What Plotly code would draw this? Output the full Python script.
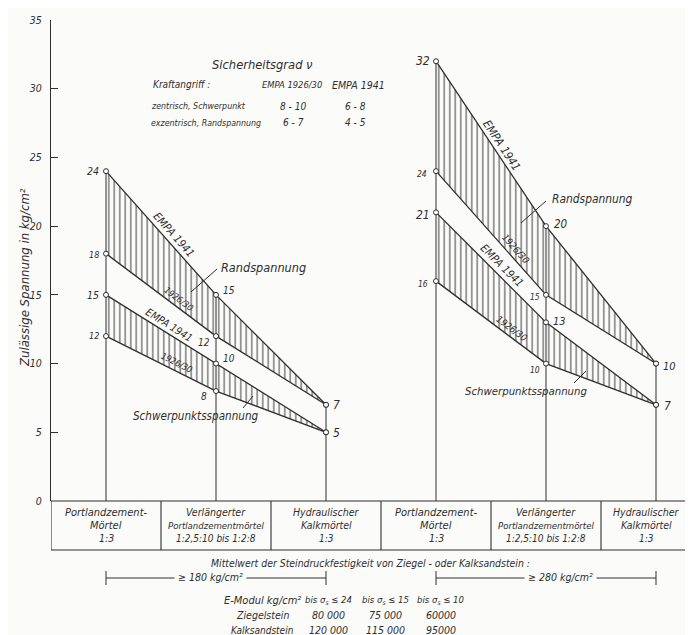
import math
import plotly.graph_objects as go

# ---------------- data ----------------
mortar_cells = [
    ["Portlandzement-", "Mörtel", "1:3"],
    ["Verlängerter", "Portlandzementmörtel", "1:2,5:10 bis 1:2:8"],
    ["Hydraulischer", "Kalkmörtel", "1:3"],
]
strength_labels = ["≥ 180 kg/cm²", "≥ 280 kg/cm²"]

rand_1941_180 = [24, 15, 7]
rand_1926_180 = [18, 12, 7]
schwer_1941_180 = [15, 10, 5]
schwer_1926_180 = [12, 8, 5]
rand_1941_280 = [32, 20, 10]
rand_1926_280 = [24, 15, 10]
schwer_1941_280 = [21, 13, 7]
schwer_1926_280 = [16, 10, 7]

y_tick_values = [0, 5, 10, 15, 20, 25, 30, 35]

safety_title = "Sicherheitsgrad ν"
safety_header = ["Kraftangriff :", "EMPA 1926/30", "EMPA 1941"]
safety_rows = [
    ["zentrisch, Schwerpunkt", "8 - 10", "6 - 8"],
    ["exzentrisch, Randspannung", "6 - 7", "4 - 5"],
]
emodul_rows = [
    ["E-Modul kg/cm²", "bis σ<sub>s</sub> ≤ 24", "bis σ<sub>s</sub> ≤ 15", "bis σ<sub>s</sub> ≤ 10"],
    ["Ziegelstein", "80 000", "75 000", "60000"],
    ["Kalksandstein", "120 000", "115 000", "95000"],
]

# ---------------- layout constants ----------------
W, H = 693, 635
ML, MR, MT, MB = 43, 0, 12, 142
PW, PH = W - ML - MR, H - MT - MB
COL = 110.0
XMAX = PW / COL
YMAX = 35
SY = PH / YMAX
INK = "#2e2e2e"
BG = "#fbfbfa"
FONT = "DejaVu Sans Condensed, Liberation Sans Narrow, Liberation Sans, sans-serif"


def fnt(size, color=INK):
    return dict(family=FONT, size=size, color=color, style="italic")


def pxx(p):
    return (p - ML) / PW


def pxy(p):
    return (H - MB - p) / PH


groups = [
    dict(rand=(rand_1926_180, rand_1941_180), schwer=(schwer_1926_180, schwer_1941_180)),
    dict(rand=(rand_1926_280, rand_1941_280), schwer=(schwer_1926_280, schwer_1941_280)),
]


def xcols(g):
    return [3 * g + i + 0.5 for i in range(3)]


fig = go.Figure()

# vertical column lines (up to the highest value of each column)
vx, vy = [], []
for g, grp in enumerate(groups):
    tops = grp["rand"][1]
    for xc, top in zip(xcols(g), tops):
        vx += [xc, xc, None]
        vy += [0, top, None]
fig.add_trace(go.Scatter(x=vx, y=vy, mode="lines", line=dict(color=INK, width=1.0),
                         hoverinfo="skip"))

# hatched bands
mk = dict(symbol="circle", size=5, color="white", line=dict(color=INK, width=1))
for g, grp in enumerate(groups):
    for key in ("rand", "schwer"):
        lower, upper = grp[key]
        fig.add_trace(go.Scatter(x=xcols(g), y=lower, mode="lines+markers",
                                 line=dict(color=INK, width=1.3), marker=mk,
                                 hoverinfo="skip"))
        fig.add_trace(go.Scatter(x=xcols(g), y=upper, mode="lines+markers",
                                 line=dict(color=INK, width=1.3), marker=mk,
                                 fill="tonexty", fillcolor="rgba(0,0,0,0)",
                                 fillpattern=dict(shape="|", size=5.5, solidity=0.18,
                                                  fgcolor="#3a3a3a", bgcolor="rgba(0,0,0,0)",
                                                  fillmode="replace"),
                                 hoverinfo="skip"))

annotations = []
shapes = []

# point value labels: (xshift, yshift, size, anchor) per column
label_specs = {
    (0, "rand", 1): [(-5, 0, 10.5, "right"), (5, 4, 10, "left"), (5, 0, 12, "left")],
    (0, "rand", 0): [(-5, -1, 9, "right"), (-4, -6, 10, "right"), None],
    (0, "schwer", 1): [(-5, 0, 10.5, "right"), (5, 5, 10, "left"), (5, -1, 12, "left")],
    (0, "schwer", 0): [(-5, 0, 9, "right"), (-7, -5, 10, "right"), None],
    (1, "rand", 1): [(-4, 0, 12, "right"), (6, 2, 11.5, "left"), (5, -3, 11, "left")],
    (1, "rand", 0): [(-7, -3, 8.5, "right"), (-4, -2, 8.5, "right"), None],
    (1, "schwer", 1): [(-4, -3, 12, "right"), (5, 1, 11, "left"), (6, -1, 12, "left")],
    (1, "schwer", 0): [(-6, -3, 8.5, "right"), (-4, -6, 8.5, "right"), None],
}
for (g, key, which), specs in label_specs.items():
    vals = groups[g][key][which]
    for xc, v, sp in zip(xcols(g), vals, specs):
        if sp is None:
            continue
        dx, dy, sz, anc = sp
        annotations.append(dict(x=xc, y=v, xref="x", yref="y", text=str(v), showarrow=False,
                                xanchor=anc, yanchor="middle", xshift=dx, yshift=dy,
                                font=fnt(sz)))

# rotated series labels along first segment: (t, offset, text, size)
rot_specs = {
    (0, "rand", 1): (0.557, 8.0, "EMPA 1941", 11),
    (0, "rand", 0): (0.62, 7.5, "1926/30", 9),
    (0, "schwer", 1): (0.54, 8.5, "EMPA 1941", 10.5),
    (0, "schwer", 0): (0.614, 8.0, "1926/30", 9),
    (1, "rand", 1): (0.54, 8.5, "EMPA 1941", 11.5),
    (1, "rand", 0): (0.67, 8.0, "1926/30", 9.5),
    (1, "schwer", 1): (0.54, 8.5, "EMPA 1941", 11),
    (1, "schwer", 0): (0.65, 7.5, "1926/30", 9.5),
}
for (g, key, which), (t, d, txt, sz) in rot_specs.items():
    vals = groups[g][key][which]
    x0 = xcols(g)[0]
    y0, y1 = vals[0], vals[1]
    ang = math.degrees(math.atan2((y0 - y1) * SY, COL))
    xa = x0 + t
    ya = y0 + (y1 - y0) * t
    annotations.append(dict(x=xa, y=ya, xref="x", yref="y", text=txt, showarrow=False,
                            textangle=ang, xanchor="center", yanchor="middle",
                            xshift=d * math.sin(math.radians(ang)),
                            yshift=d * math.cos(math.radians(ang)),
                            font=fnt(sz)))

# leader labels (pixel placement)
leaders = [
    ("Randspannung", 211, 259, 12.6, (209, 261, 183, 284)),
    ("Schwerpunktsspannung", 123, 408, 11.6, (235, 400, 245, 388)),
    ("Randspannung", 542, 191, 11.9, (538, 193, 513, 215)),
    ("Schwerpunktsspannung", 455, 383, 11.3, (566, 375, 578, 363)),
]
for txt, lx, ly, sz, (ax0, ay0, ax1, ay1) in leaders:
    annotations.append(dict(x=pxx(lx), y=pxy(ly), xref="paper", yref="paper", text=txt,
                            showarrow=False, xanchor="left", yanchor="middle", font=fnt(sz)))
    shapes.append(dict(type="line", xref="paper", yref="paper", x0=pxx(ax0), y0=pxy(ay0),
                       x1=pxx(ax1), y1=pxy(ay1), line=dict(color=INK, width=1)))

# safety factor block
annotations.append(dict(x=pxx(255), y=pxy(57), xref="paper", yref="paper", text=safety_title,
                        showarrow=False, xanchor="center", yanchor="middle", font=fnt(12.8)))
hdr = [(143, 10), (252, 9.3), (322, 10.5)]
for txt, (hx, sz) in zip(safety_header, hdr):
    annotations.append(dict(x=pxx(hx), y=pxy(77), xref="paper", yref="paper", text=txt,
                            showarrow=False, xanchor="left", yanchor="middle",
                            font=fnt(sz)))
row_y = [98, 115]
for ry, row in zip(row_y, safety_rows):
    for txt, (cx, anc, sz) in zip(row, [(141, "left", 8.8), (285, "center", 10),
                                        (347, "center", 10)]):
        annotations.append(dict(x=pxx(cx), y=pxy(ry), xref="paper", yref="paper", text=txt,
                                showarrow=False, xanchor=anc, yanchor="middle",
                                font=fnt(sz)))

# table of mortar types
TB = 542
table_right = (683 - ML) / COL
shapes.append(dict(type="rect", xref="x", yref="paper", x0=0, x1=table_right,
                   y0=pxy(TB), y1=0, line=dict(color=INK, width=1.1)))
for i in range(1, 6):
    shapes.append(dict(type="line", xref="x", yref="paper", x0=i, x1=i, y0=pxy(TB), y1=0,
                       line=dict(color=INK, width=1.1)))
line_y = [504, 517, 530]
cell_sizes = [[11, 11, 10.5], [10.5, 9.5, 10], [10.5, 10.5, 10]]
for g in range(2):
    for i, cell in enumerate(mortar_cells):
        xc = 3 * g + i + 0.5
        if g == 1 and i == 2:
            xc = (5 + table_right) / 2
        for k, (txt, ly) in enumerate(zip(cell, line_y)):
            annotations.append(dict(x=xc, y=pxy(ly), xref="x", yref="paper", text=txt,
                                    showarrow=False, xanchor="center", yanchor="middle",
                                    font=fnt(cell_sizes[i][k])))

# strength brackets
annotations.append(dict(x=pxx(362), y=pxy(555), xref="paper", yref="paper",
                        text="Mittelwert der Steindruckfestigkeit von Ziegel - oder Kalksandstein :",
                        showarrow=False, xanchor="center", yanchor="middle", font=fnt(10.4)))
BY = 570
label_x = [1.45, 4.63]
for g in range(2):
    xs = xcols(g)
    shapes.append(dict(type="line", xref="x", yref="paper", x0=xs[0], x1=xs[2],
                       y0=pxy(BY), y1=pxy(BY), line=dict(color=INK, width=1)))
    for xe in (xs[0], xs[2]):
        shapes.append(dict(type="line", xref="x", yref="paper", x0=xe, x1=xe,
                           y0=pxy(BY - 7), y1=pxy(BY + 7), line=dict(color=INK, width=1)))
    annotations.append(dict(x=label_x[g], y=pxy(BY - 1), xref="x", yref="paper",
                            text=strength_labels[g], showarrow=False, xanchor="center",
                            yanchor="middle", bgcolor=BG, borderpad=3, font=fnt(10.5)))

# E-Modul table
em_x = [255, 320, 377, 433]
em_y = [592, 607, 622]
em_sizes = [[11, 9.5, 9.5, 9.5], [10.5, 10.5, 10.5, 10.5], [10, 10.5, 10.5, 10.5]]
for r, (ry, row) in enumerate(zip(em_y, emodul_rows)):
    for c, (cx, txt) in enumerate(zip(em_x, row)):
        annotations.append(dict(x=pxx(cx), y=pxy(ry), xref="paper", yref="paper", text=txt,
                                showarrow=False, xanchor="center", yanchor="middle",
                                font=fnt(em_sizes[r][c])))

# y-axis title
annotations.append(dict(x=pxx(17), y=pxy(270), xref="paper", yref="paper",
                        text="Zulässige Spannung in kg/cm²", textangle=-90, showarrow=False,
                        xanchor="center", yanchor="middle", font=fnt(13)))

fig.update_layout(
    width=W, height=H,
    margin=dict(l=ML, r=MR, t=MT, b=MB),
    paper_bgcolor=BG, plot_bgcolor=BG,
    showlegend=False, hovermode=False,
    xaxis=dict(range=[0, XMAX], visible=False, fixedrange=True),
    yaxis=dict(range=[0, YMAX], tickvals=y_tick_values, ticktext=[str(v) for v in y_tick_values],
               ticks="inside", ticklen=7, tickcolor=INK, tickwidth=1,
               showline=True, linecolor=INK, linewidth=1.1, showgrid=False, zeroline=False,
               tickfont=fnt(10.5), ticklabelstandoff=6, fixedrange=True),
    annotations=annotations,
    shapes=shapes,
)

fig.write_html("out.html")
